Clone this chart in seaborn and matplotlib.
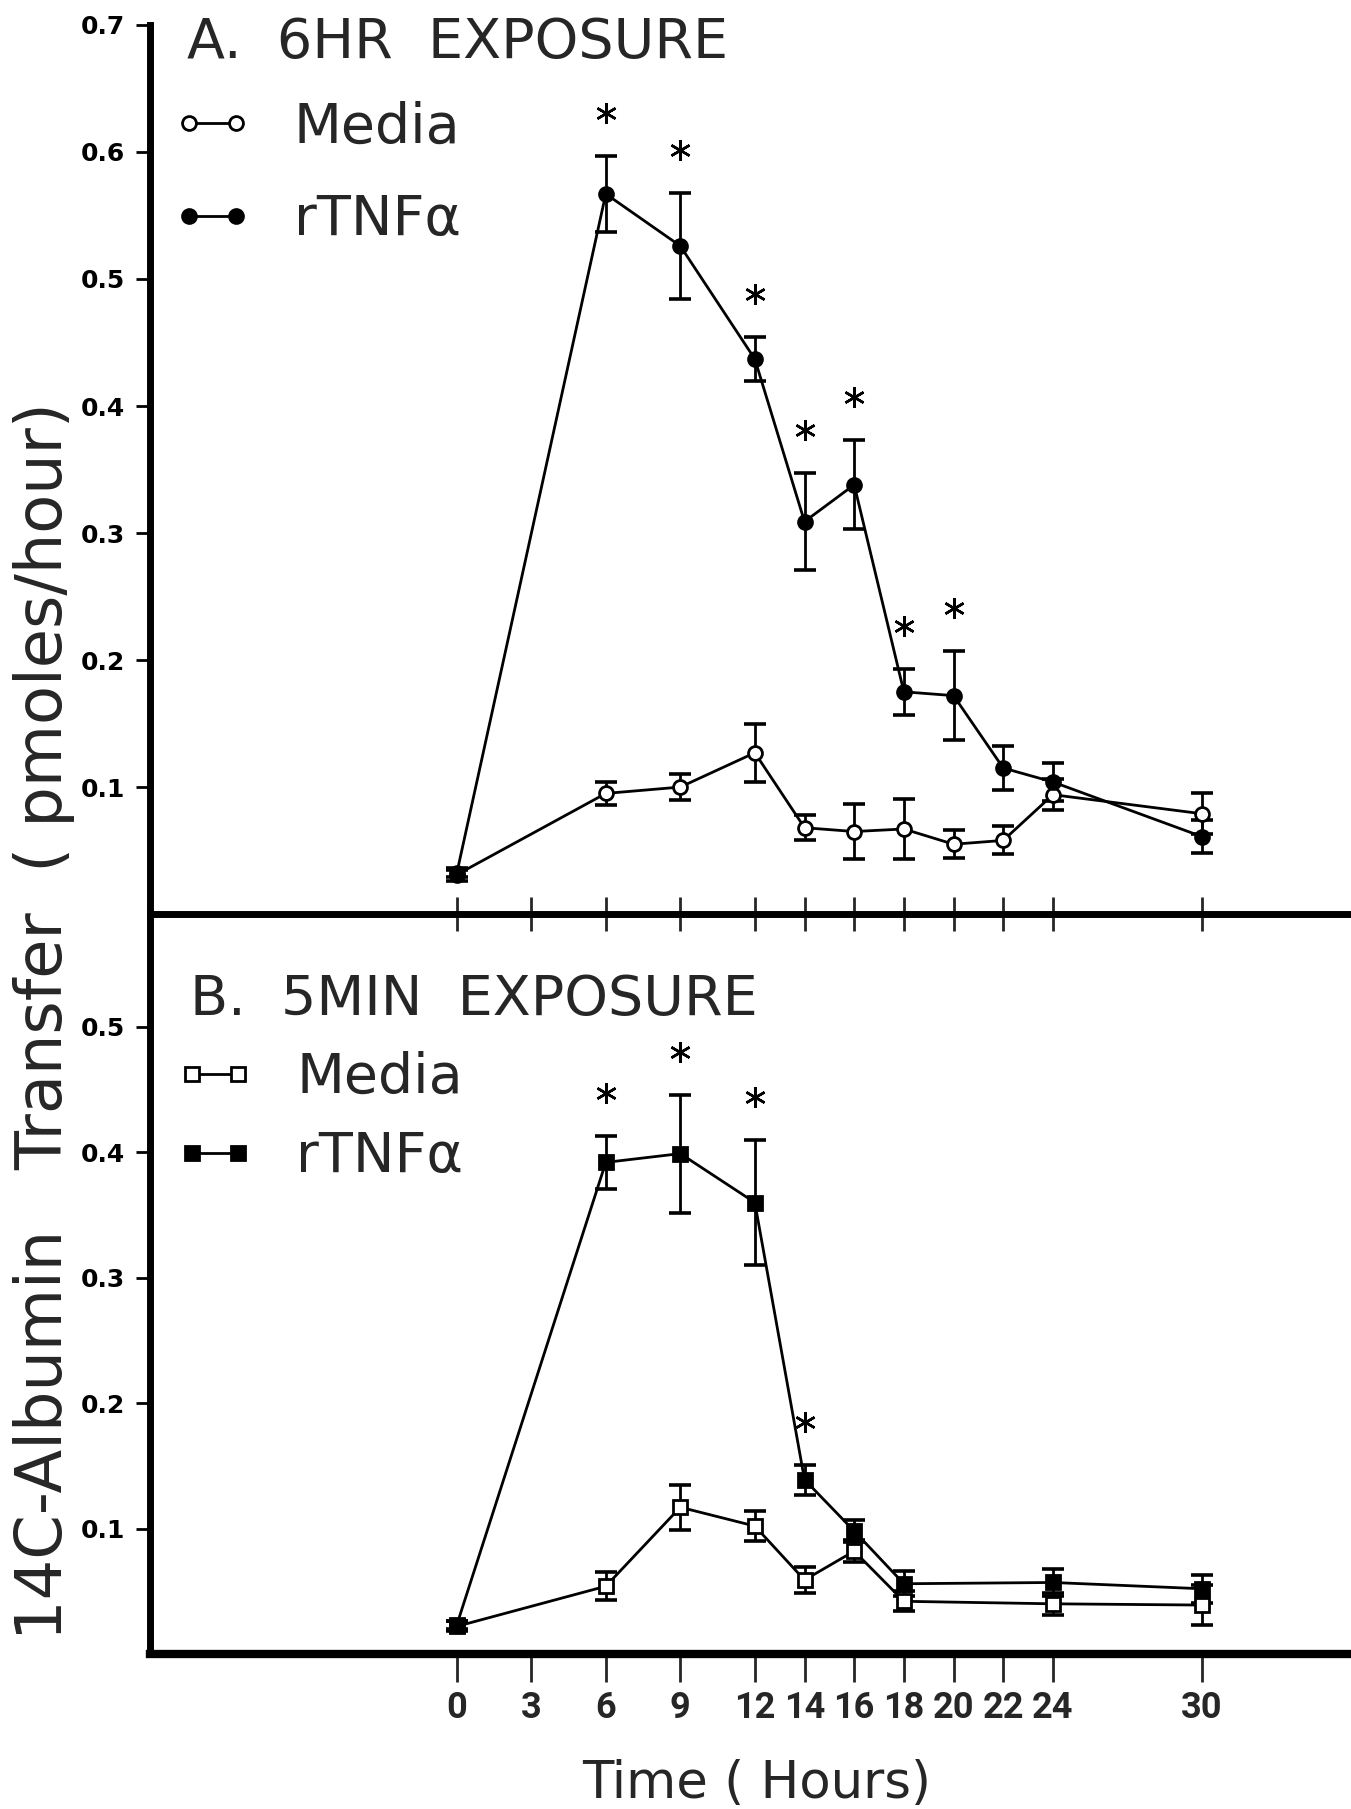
import matplotlib
matplotlib.use("Agg")
import matplotlib.pyplot as plt
import matplotlib.transforms as mtransforms
from matplotlib.lines import Line2D
import pandas as pd
import seaborn as sns

# ---------------- data ----------------
times_a = [0, 6, 9, 12, 14, 16, 18, 20, 22, 24, 30]
media_a = [0.031, 0.095, 0.100, 0.127, 0.068, 0.065, 0.067, 0.055, 0.058, 0.094, 0.079]
media_a_err = [0.005, 0.009, 0.010, 0.023, 0.010, 0.022, 0.024, 0.011, 0.011, 0.012, 0.016]
tnf_a = [0.032, 0.567, 0.526, 0.437, 0.309, 0.338, 0.175, 0.172, 0.115, 0.104, 0.061]
tnf_a_err = [0.003, 0.030, 0.042, 0.017, 0.038, 0.035, 0.018, 0.035, 0.017, 0.015, 0.013]
sig_a = [6, 9, 12, 14, 16, 18, 20]

times_b = [0, 6, 9, 12, 14, 16, 18, 24, 30]
media_b = [0.022, 0.054, 0.117, 0.102, 0.059, 0.082, 0.042, 0.040, 0.039]
media_b_err = [0.004, 0.011, 0.018, 0.012, 0.010, 0.009, 0.008, 0.009, 0.016]
tnf_b = [0.023, 0.392, 0.399, 0.360, 0.139, 0.098, 0.056, 0.057, 0.052]
tnf_b_err = [0.003, 0.021, 0.047, 0.050, 0.012, 0.009, 0.010, 0.011, 0.011]
sig_b = [6, 9, 12, 14]

xticks = [0, 3, 6, 9, 12, 14, 16, 18, 20, 22, 24, 30]
yticks_a = [0.1, 0.2, 0.3, 0.4, 0.5, 0.6, 0.7]
yticks_b = [0.1, 0.2, 0.3, 0.4, 0.5]

title_a = "A.  6HR  EXPOSURE"
title_b = "B.  5MIN  EXPOSURE"
series_names = ["Media", "rTNF\u03b1"]
ylabel = "14C-Albumin   Transfer  ( pmoles/hour)"
xlabel = "Time ( Hours)"

# ---------------- style ----------------
sns.set_theme(style="ticks")
plt.rcParams["font.family"] = ["DejaVu Sans"]
ytick_font = ["DejaVu Sans"]
xtick_font = ["Roboto", "DejaVu Sans"]
text_font = ["DejaVu Sans"]

fig = plt.figure(figsize=(13.51, 18.09), dpi=100)
fig.patch.set_facecolor("white")
axA = fig.add_axes([0.111, 0.4947, 0.889, 0.4915])
axB = fig.add_axes([0.111, 0.0857, 0.889, 0.4090])
axB.patch.set_alpha(0)
axA.set_zorder(2)
axA.patch.set_alpha(0)

XLIM = (-12.35, 36.0)


def draw_panel(ax, times, media, media_err, tnf, tnf_err, sig, marker, msize):
    df = pd.DataFrame({"time": times, "media": media, "media_err": media_err,
                       "tnf": tnf, "tnf_err": tnf_err})
    for col, ecol, face in [("media", "media_err", "white"), ("tnf", "tnf_err", "black")]:
        ax.errorbar(df["time"], df[col], yerr=df[ecol], fmt="none", ecolor="black",
                    elinewidth=2.0, capsize=8, capthick=2.6, zorder=2)
        sns.lineplot(data=df, x="time", y=col, ax=ax, color="black", linewidth=2.0,
                     marker=marker, markersize=msize, markerfacecolor=face,
                     markeredgecolor="black", markeredgewidth=2.0, zorder=3)
    # significance asterisks above the rTNF error bars
    star_tr = mtransforms.offset_copy(ax.transData, fig=fig, y=31, units="points")
    sdf = df[df["time"].isin(sig)]
    ax.plot(sdf["time"], sdf["tnf"] + sdf["tnf_err"], linestyle="none",
            marker=(6, 2, 0), markersize=15, markeredgewidth=1.8, color="black",
            transform=star_tr, zorder=4)
    ax.set_xlim(*XLIM)
    ax.set_xlabel("")
    ax.set_ylabel("")
    ax.set_xticks(xticks)
    for s in ["top", "right"]:
        ax.spines[s].set_visible(False)
    ax.spines["left"].set_linewidth(5)
    ax.spines["left"].set_color("black")
    ax.spines["bottom"].set_color("black")
    ax.tick_params(axis="y", direction="out", length=10, width=2, pad=8, colors="black")


draw_panel(axA, times_a, media_a, media_a_err, tnf_a, tnf_a_err, sig_a, "o", 10)
draw_panel(axB, times_b, media_b, media_b_err, tnf_b, tnf_b_err, sig_b, "s", 9.5)

axA.set_ylim(0, 0.7)
axA.set_yticks(yticks_a)
axA.set_yticklabels([f"{v:.1f}" for v in yticks_a], fontfamily=ytick_font,
                    fontweight="bold", fontsize=18)
axA.spines["bottom"].set_linewidth(5)
axA.tick_params(axis="x", direction="inout", length=24, width=2, labelbottom=False)

axB.set_ylim(0, 0.59)
axB.set_yticks(yticks_b)
axB.set_yticklabels([f"{v:.1f}" for v in yticks_b], fontfamily=ytick_font,
                    fontweight="bold", fontsize=18)
axB.spines["bottom"].set_linewidth(6)
axB.tick_params(axis="x", direction="out", length=20, width=2, pad=6)
axB.set_xticklabels([str(t) for t in xticks], fontfamily=xtick_font,
                    fontweight="bold", fontsize=26)

# panel titles
axA.text(0.031, 0.963, title_a, transform=axA.transAxes, fontsize=40,
         fontfamily=text_font, ha="left", va="baseline")
axB.text(0.033, 0.863, title_b, transform=axB.transAxes, fontsize=40,
         fontfamily=text_font, ha="left", va="baseline")


# legends
def make_handles(marker, ms):
    return [Line2D([0], [0], color="black", lw=2, marker=marker, markersize=ms,
                   markerfacecolor=f, markeredgecolor="black", markeredgewidth=2)
            for f in ["white", "black"]]


legA = axA.legend(make_handles("o", 10), series_names, loc="upper left",
                  bbox_to_anchor=(0.019, 0.915), frameon=False, numpoints=2,
                  handlelength=1.43, handletextpad=0.75, labelspacing=0.70,
                  borderpad=0, borderaxespad=0,
                  prop={"family": text_font, "size": 40})
legB = axB.legend(make_handles("s", 10), series_names, loc="upper left",
                  bbox_to_anchor=(0.021, 0.815), frameon=False, numpoints=2,
                  handlelength=1.43, handletextpad=0.75, labelspacing=0.45,
                  borderpad=0, borderaxespad=0,
                  prop={"family": text_font, "size": 40})

# shared axis labels
fig.text(0.0326, 0.4356, ylabel, rotation=90, ha="center", va="center",
         fontsize=46, fontfamily=text_font)
fig.text(0.560, 0.006, xlabel, ha="center", va="baseline", fontsize=37,
         fontfamily=text_font)

fig.savefig("out.png", dpi=100, facecolor="white")
